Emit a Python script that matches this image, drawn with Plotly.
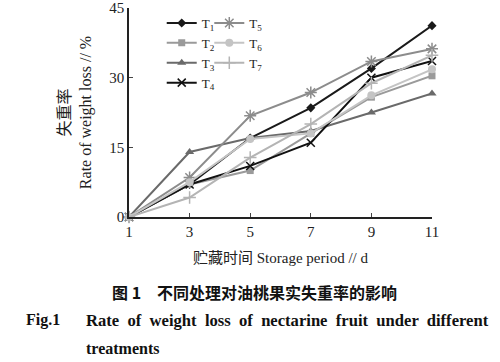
import plotly.graph_objects as go

days = [1, 3, 5, 7, 9, 11]
T1 = [0, 7.0, 17.0, 23.5, 32.0, 41.2]
T2 = [0, 7.0, 10.0, 18.0, 25.8, 30.4]
T3 = [0, 14.0, 17.0, 18.5, 22.5, 26.6]
T4 = [0, 7.0, 11.0, 16.0, 30.0, 33.6]
T5 = [0, 8.5, 21.8, 26.8, 33.5, 36.2]
T6 = [0, 7.5, 16.8, 18.0, 26.2, 31.8]
T7 = [0, 4.2, 12.8, 20.0, 28.8, 34.8]

names = ["T<sub>1</sub>", "T<sub>2</sub>", "T<sub>3</sub>", "T<sub>4</sub>",
         "T<sub>5</sub>", "T<sub>6</sub>", "T<sub>7</sub>"]
series = [T1, T2, T3, T4, T5, T6, T7]
colors = ["#1a1a1a", "#9a9a9a", "#6a6a6a", "#111111", "#8c8c8c", "#c4c4c4", "#b4b4b4"]
symbols = ["diamond", "square", "triangle-up", "x-thin", "asterisk", "circle", "cross-thin"]
sizes = [7, 7, 8, 8, 10, 8, 9]
legends = ["legend", "legend", "legend", "legend", "legend2", "legend2", "legend2"]

fig = go.Figure()
for nm, ys, c, s, sz, lg in zip(names, series, colors, symbols, sizes, legends):
    thin = s in ("x-thin", "asterisk", "cross-thin")
    fig.add_trace(go.Scatter(
        x=days, y=ys, name=nm, mode="lines+markers",
        line=dict(color=c, width=2),
        marker=dict(symbol=s, size=sz, color=c,
                    line=dict(color=c, width=1.5 if thin else 0)),
        cliponaxis=False, legend=lg,
    ))

font_serif = "Liberation Serif, Times New Roman, serif"
title_font = "Liberation Serif, Noto Sans CJK SC, serif"
fig.update_layout(
    width=500, height=362,
    margin=dict(l=129, r=68, t=8, b=145),
    paper_bgcolor="white", plot_bgcolor="white",
    font=dict(family=font_serif, size=14, color="#222"),
    showlegend=True,
    legend=dict(x=0.108, y=1.0, xanchor="left", yanchor="top",
                bgcolor="rgba(0,0,0,0)", font=dict(size=13),
                tracegroupgap=0, itemwidth=30),
    legend2=dict(x=0.265, y=1.0, xanchor="left", yanchor="top",
                 bgcolor="rgba(0,0,0,0)", font=dict(size=13),
                 tracegroupgap=0, itemwidth=30),
    xaxis=dict(range=[1, 11], tickvals=days, ticks="inside", ticklen=4,
               showline=True, linecolor="#222", linewidth=1.5, showgrid=False,
               zeroline=False, tickfont=dict(size=15), automargin=False,
               title=dict(text="贮藏时间 Storage period // d", standoff=14,
                          font=dict(size=15, family=title_font))),
    yaxis=dict(range=[0, 45], tickvals=[0, 15, 30, 45], ticks="inside", ticklen=4,
               showline=True, linecolor="#222", linewidth=1.5, showgrid=False,
               zeroline=False, tickfont=dict(size=15), automargin=False,
               title=dict(text="失重率<br>Rate of weight loss // %", standoff=14,
                          font=dict(size=16, family=title_font))),
)

H = 209.0
def py(ypx):
    return (217 - ypx) / H
def px(xpx):
    return (xpx - 129) / 303.0

fig.add_annotation(text="<b>图 1　不同处理对油桃果实失重率的影响</b>", xref="paper", yref="paper",
                   x=px(254), y=py(292), showarrow=False, xanchor="center", yanchor="middle",
                   font=dict(size=16, family="Noto Sans CJK SC, serif", color="#111"))
fig.add_annotation(text="<b>Fig.1</b>", xref="paper", yref="paper",
                   x=px(24), y=py(320), showarrow=False, xanchor="left", yanchor="middle",
                   font=dict(size=16, family=font_serif, color="#111"))
fig.add_annotation(text="<b>Rate  of  weight  loss  of  nectarine  fruit  under  different</b>",
                   xref="paper", yref="paper",
                   x=px(84), y=py(320), showarrow=False, xanchor="left", yanchor="middle",
                   font=dict(size=16.6, family=font_serif, color="#111"))
fig.add_annotation(text="<b>treatments</b>", xref="paper", yref="paper",
                   x=px(84), y=py(348), showarrow=False, xanchor="left", yanchor="middle",
                   font=dict(size=16, family=font_serif, color="#111"))

fig.write_html("out.html", config={"displayModeBar": False},
               post_script="document.body.style.margin='0';document.body.style.overflow='hidden';")
